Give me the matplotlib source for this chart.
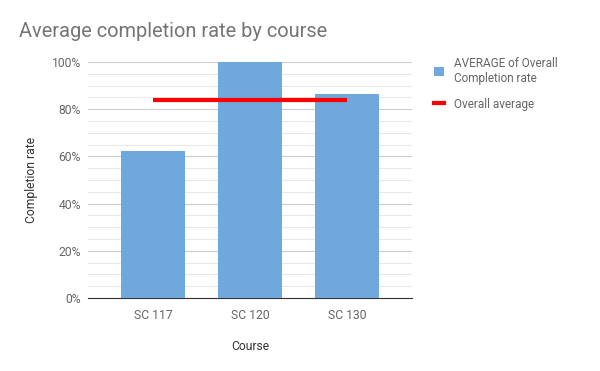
import matplotlib
matplotlib.use('Agg')
import matplotlib.pyplot as plt
from matplotlib.ticker import MultipleLocator, PercentFormatter
from matplotlib.patches import Patch
from matplotlib.lines import Line2D

# Datos
courses = ['SC 117', 'SC 120', 'SC 130']
completion = [62.3, 100.0, 86.4]
overall_avg = 83.8

plt.rcParams['font.family'] = ['Roboto', 'DejaVu Sans']

fig = plt.figure(figsize=(6, 3.71), dpi=100)
ax = fig.add_axes([0.1467, 0.1968, 0.54, 0.6361])

x = range(len(courses))
ax.bar(x, completion, width=0.65, color='#6fa8dc', zorder=3)
ax.plot([0, len(courses) - 1], [overall_avg, overall_avg], color='#ff0000',
        linewidth=3, zorder=4, solid_capstyle='butt')

ax.set_xlim(-0.67, 2.67)
ax.set_ylim(0, 100)
ax.yaxis.set_major_locator(MultipleLocator(20))
ax.yaxis.set_minor_locator(MultipleLocator(5))
ax.yaxis.set_major_formatter(PercentFormatter(decimals=0))
ax.grid(which='major', axis='y', color='#cccccc', linewidth=0.8, zorder=0)
ax.grid(which='minor', axis='y', color='#e8e8e8', linewidth=0.8, zorder=0)
ax.set_xticks(list(x))
ax.set_xticklabels(courses)
ax.tick_params(axis='both', which='both', length=0, labelsize=8.7, labelcolor='#666666')
ax.tick_params(axis='y', pad=5)
ax.tick_params(axis='x', pad=8)
for s in ['top', 'right', 'left']:
    ax.spines[s].set_visible(False)
ax.spines['bottom'].set_color('#333333')

ax.set_ylabel('Completion rate', fontsize=8.7, color='#333333', labelpad=10)
ax.set_xlabel('Course', fontsize=8.7, color='#333333', labelpad=13)

fig.text(0.032, 0.915, 'Average completion rate by course', fontsize=14.4,
         color='#757575', va='center')

handles = [Patch(facecolor='#6fa8dc', edgecolor='none'),
           Line2D([0], [0], color='#ff0000', linewidth=3)]
labels = ['AVERAGE of Overall\nCompletion rate', 'Overall average']
fig.legend(handles, labels, loc='upper left', bbox_to_anchor=(0.705, 0.876),
           frameon=False, fontsize=8.5, labelcolor='#666666', handlelength=0.9,
           handleheight=0.9, handletextpad=0.8, labelspacing=1.1)

plt.savefig('out.png', dpi=100)
